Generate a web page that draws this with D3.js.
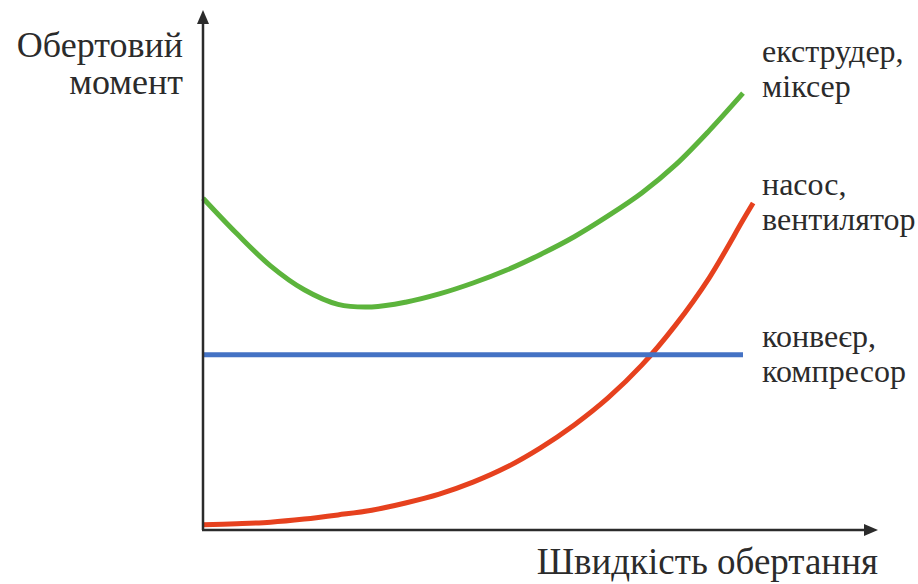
<!DOCTYPE html>
<html>
<head>
<meta charset="utf-8">
<script src="https://cdn.jsdelivr.net/npm/d3@7"></script>
<style>
  body { margin: 0; background: #fff; }
  svg text { font-family: 'Liberation Serif', 'Times New Roman', serif !important; }
</style>
</head>
<body>
<div class="chart"></div>
<script>
var svgWidth = 918;
var svgHeight = 584;

// speed (0..100) and torque (0..100)
var speed = [0, 5, 10, 15, 20, 25, 30, 35, 40, 45, 50, 55, 60, 65, 70, 75, 80];
var extruderTorque = [63.8, 57.0, 50.8, 46.2, 43.4, 42.9, 43.8, 45.4, 47.5, 50.0, 53.0, 56.4, 60.4, 64.8, 70.2, 76.8, 84];
var pumpSpeed = [0, 5, 10, 15, 20, 25, 30, 35, 40, 45, 50, 55, 60, 65, 70, 75, 80, 81.5];
var pumpTorque = [1, 1.2, 1.5, 2.1, 2.9, 3.8, 5.2, 6.9, 9.2, 12.1, 15.8, 20.2, 25.4, 31.7, 39.4, 48.5, 59.6, 62.9];
var conveyorSpeed = [0, 80];
var conveyorTorque = [33.7, 33.7];

var yLabel = ["Обертовий", "момент"];
var xLabel = "Швидкість обертання";
var seriesLabels = [
  ["екструдер,", "міксер"],
  ["насос,", "вентилятор"],
  ["конвеєр,", "компресор"]
];

var serifFont = "'Liberation Serif', serif";
var textColor = "#2b2b2b";

var svg = d3.select(".chart")
  .append("svg")
  .attr("width", svgWidth)
  .attr("height", svgHeight);

var xScale = d3.scaleLinear().domain([0, 100]).range([203, 878]);
var yScale = d3.scaleLinear().domain([0, 100]).range([530, 10]);

var line = d3.line()
  .x(d => xScale(d[0]))
  .y(d => yScale(d[1]))
  .curve(d3.curveCatmullRom.alpha(0.5));

// curves
var series = [
  { xs: speed, ys: extruderTorque, color: "#5cb43c" },
  { xs: pumpSpeed, ys: pumpTorque, color: "#e6411e" },
  { xs: conveyorSpeed, ys: conveyorTorque, color: "#4472c4" }
];

svg.selectAll("path.curve")
  .data(series)
  .enter()
  .append("path")
  .attr("class", "curve")
  .attr("fill", "none")
  .attr("stroke", d => d.color)
  .attr("stroke-width", 5)
  .attr("d", d => line(d.xs.map((x, i) => [x, d.ys[i]])));

// axes with arrow heads
var axisColor = "#2b2b2b";
var x0 = xScale(0), yTop = yScale(100), y0 = yScale(0), xEnd = xScale(100);

svg.append("line")
  .attr("x1", x0).attr("y1", y0)
  .attr("x2", x0).attr("y2", yTop + 10)
  .attr("stroke", axisColor).attr("stroke-width", 2.5);
svg.append("line")
  .attr("x1", x0 - 1).attr("y1", y0)
  .attr("x2", xEnd - 10).attr("y2", y0)
  .attr("stroke", axisColor).attr("stroke-width", 2.5);

svg.append("path")
  .attr("d", `M${x0},${yTop} L${x0 - 6},${yTop + 14} L${x0 + 6},${yTop + 14} Z`)
  .attr("fill", axisColor);
svg.append("path")
  .attr("d", `M${xEnd},${y0} L${xEnd - 14},${y0 - 6} L${xEnd - 14},${y0 + 6} Z`)
  .attr("fill", axisColor);

// axis titles
var yTitle = svg.append("text")
  .style("font-family", serifFont)
  .attr("fill", textColor)
  .attr("text-anchor", "end")
  .attr("font-size", 36);
yTitle.selectAll("tspan")
  .data(yLabel)
  .enter()
  .append("tspan")
  .attr("x", 183)
  .attr("y", (d, i) => 57 + i * 37)
  .text(d => d);

svg.append("text")
  .style("font-family", serifFont)
  .attr("fill", textColor)
  .attr("x", 878)
  .attr("y", 574)
  .attr("text-anchor", "end")
  .attr("font-size", 37)
  .text(xLabel);

// series labels
var labelY = [62, 195, 347];
seriesLabels.forEach(function(lines, k) {
  var t = svg.append("text")
    .style("font-family", serifFont)
    .attr("fill", textColor)
    .attr("font-size", 32);
  t.selectAll("tspan")
    .data(lines)
    .enter()
    .append("tspan")
    .attr("x", 762)
    .attr("y", (d, i) => labelY[k] + i * 35)
    .text(d => d);
});
</script>
</body>
</html>
